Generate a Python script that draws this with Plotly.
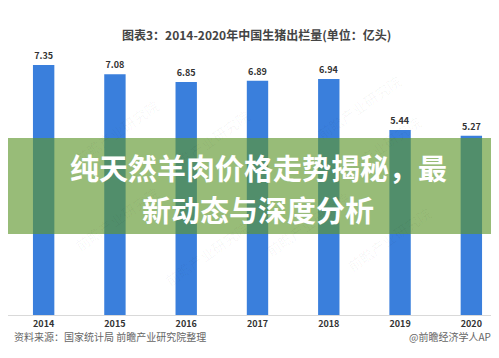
import plotly.graph_objects as go

years = ["2014", "2015", "2016", "2017", "2018", "2019", "2020"]
values = [7.35, 7.08, 6.85, 6.89, 6.94, 5.44, 5.27]
value_labels = ["7.35", "7.08", "6.85", "6.89", "6.94", "5.44", "5.27"]

chart_title = "图表3：2014-2020年中国生猪出栏量(单位：亿头)"
overlay_line1 = "纯天然羊肉价格走势揭秘，最"
overlay_line2 = "新动态与深度分析"
source_text = "资料来源：国家统计局 前瞻产业研究院整理"
brand_text = "@前瞻经济学人APP"
watermark = "前瞻产业研究院"

FONT = "Noto Sans CJK SC"

fig = go.Figure()
fig.add_trace(go.Bar(
    x=years, y=values,
    marker=dict(color="#3a7fdc", line=dict(width=0)),
    text=["<b>" + t + "</b>" for t in value_labels], textposition="outside",
    textfont=dict(family=FONT, size=9, color="#333333"),
    cliponaxis=False,
))

W, H = 499, 358
top, bottom = 35, 51
plot_h = H - top - bottom

def py(pix):
    return (H - bottom - pix) / plot_h

annotations = [
    dict(text="<b>" + chart_title + "</b>", x=248 / W, y=py(16), xref="paper", yref="paper",
         showarrow=False, font=dict(family=FONT, size=12, color="#444444")),
    dict(text=source_text, x=4 / W, y=py(338), xref="paper", yref="paper", xanchor="left",
         showarrow=False, font=dict(family=FONT, size=10, color="#666666")),
    dict(text=brand_text, x=491 / W, y=py(338), xref="paper", yref="paper", xanchor="right",
         showarrow=False, font=dict(family=FONT, size=10, color="#666666")),
]

# faint watermarks
for (wx, wy) in [(60, 85), (200, 95), (400, 60), (420, 140), (150, 285), (300, 255), (430, 270), (60, 250)]:
    annotations.append(dict(text=watermark, x=wx / W, y=py(wy), xref="paper", yref="paper",
                            showarrow=False, textangle=-35,
                            font=dict(family=FONT, size=14, color="rgba(0,0,0,0.04)")))

annotations += [
    dict(text="<b>" + overlay_line1 + "</b>", x=251 / W, y=py(159), xref="paper", yref="paper",
         showarrow=False, borderpad=0, font=dict(family=FONT, size=29, color="white")),
    dict(text="<b>" + overlay_line2 + "</b>", x=250 / W, y=py(201), xref="paper", yref="paper",
         showarrow=False, borderpad=0, font=dict(family=FONT, size=29, color="white")),
]

fig.update_layout(
    width=W, height=H,
    margin=dict(l=0, r=0, t=top, b=bottom),
    paper_bgcolor="white", plot_bgcolor="white",
    bargap=0.7, showlegend=False,
    xaxis=dict(showline=True, linecolor="#d9d9d9", linewidth=1, ticks="",
               tickfont=dict(family=FONT, size=9, color="#333333"),
               tickprefix="<b>", ticksuffix="</b>"),
    yaxis=dict(range=[0, 8], visible=False, showgrid=False, zeroline=False),
    shapes=[dict(type="rect", xref="paper", yref="paper", x0=-0.01, x1=1.01,
                 y0=py(226), y1=py(130), fillcolor="rgba(94,150,44,0.64)",
                 line=dict(width=0), layer="above")],
    annotations=annotations,
)

fig.write_html("out.html")
